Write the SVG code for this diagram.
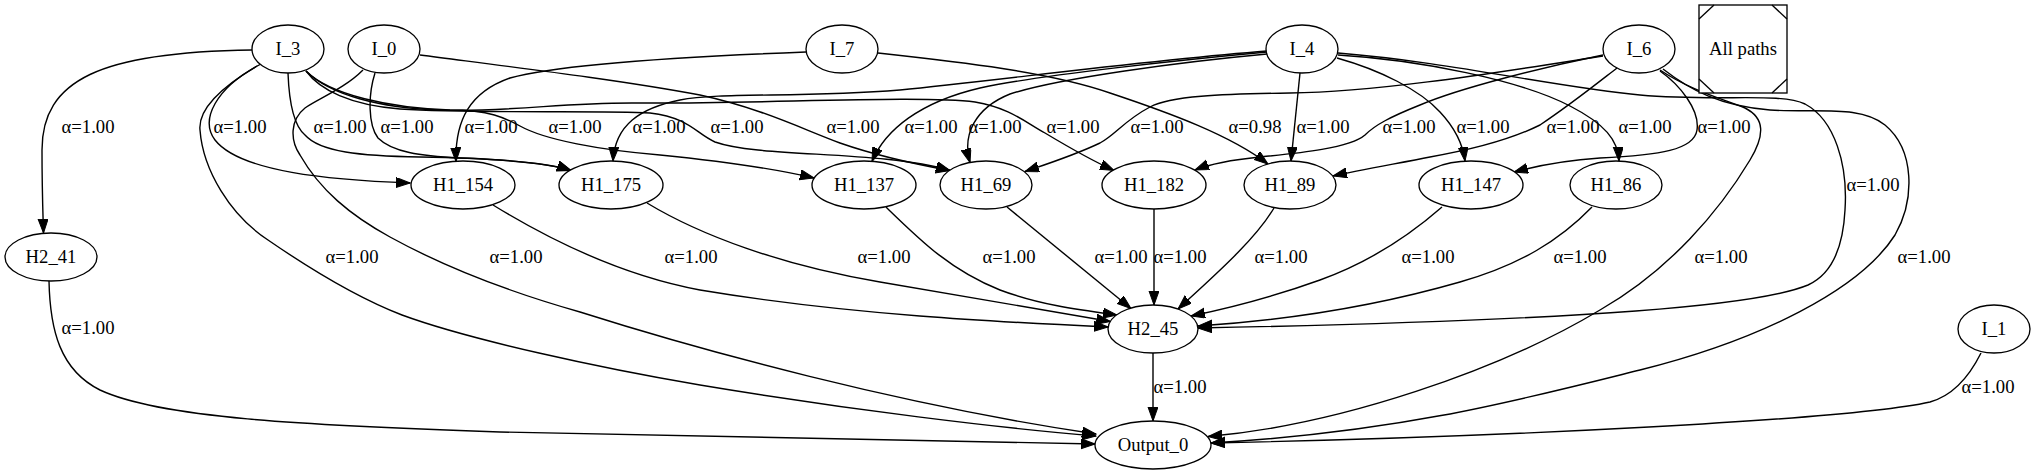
<svg xmlns="http://www.w3.org/2000/svg" width="2035" height="475" viewBox="0 0 2035 475">
<defs>
<marker id="arr" markerWidth="15" markerHeight="11" refX="14" refY="5" orient="auto" markerUnits="userSpaceOnUse">
<path d="M0,0 L14,5 L0,10 z" fill="#000" stroke="#000" stroke-width="1"/>
</marker>
<style>
.n ellipse, .n rect, .n line { fill: #fff; stroke: #000; stroke-width: 1.33; }
.n line { fill: none; }
text { font-family: "Liberation Serif", "Times New Roman", "DejaVu Serif", serif; font-size: 18.67px; fill: #000; text-anchor: middle; }
#edges path { fill: none; stroke: #000; stroke-width: 1.4; marker-end: url(#arr); }
</style>
</defs>
<rect x="0" y="0" width="2035" height="475" fill="#fff"/>
<g id="edges">
<path d="M252,50 C100,52 42,80 42,150 C42,190 43,215 43.5,233"/>
<path d="M261,64 C215,88 200,120 215,140 C240,172 330,180 410,183"/>
<path d="M257,66 C220,88 198,110 200,130 C203,170 230,215 268,240 C300,262 350,295 402,315 C470,340 600,368 700,385 C850,410 1000,428 1096,436"/>
<path d="M288,73 C289,100 293,125 305,135 C320,152 360,156 420,157 C490,158 545,162 571,170.5"/>
<path d="M306,71 C320,90 350,105 400,109 C480,114 600,110 650,113 C690,118 695,133 715,142 C760,158 880,150 950,170.5"/>
<path d="M306,71 C330,95 390,108 450,110 C490,110 505,118 520,126 C545,140 600,150 660,155 C730,162 780,170 814,178"/>
<path d="M306,71 C330,95 380,108 440,110 C520,112 560,102 640,103 C760,104 920,95 975,102 C1010,108 1025,122 1045,133 C1070,148 1095,162 1114,170.5"/>
<path d="M375,73 C368,95 368,125 378,138 C392,152 420,156 460,158 C510,160 550,163 571,170.5"/>
<path d="M363,70 C345,88 320,98 305,108 C290,120 290,140 300,155 C320,190 350,215 390,237 C450,270 520,295 580,312 C700,350 900,405 1096,434"/>
<path d="M420,55 C520,68 620,80 700,95 C760,108 800,128 840,143 C880,157 920,165 950,170.5"/>
<path d="M806,52 C700,56 560,64 510,78 C470,92 455,120 456,161.5"/>
<path d="M878,53 C960,62 1050,72 1110,93 C1170,113 1230,135 1268,164"/>
<path d="M1267,51 C1150,60 1000,80 900,90 C800,98 720,92 680,100 C640,108 615,125 613,161"/>
<path d="M1267,52 C1180,60 1040,75 980,88 C920,102 885,130 872,161.5"/>
<path d="M1267,54 C1180,62 1060,78 1010,94 C975,108 962,135 970,162.5"/>
<path d="M1300,73 L1291,161"/>
<path d="M1337,58 C1380,70 1420,90 1440,112 C1455,128 1463,145 1465,161"/>
<path d="M1338,55 C1420,60 1520,80 1570,106 C1605,124 1618,140 1619,161"/>
<path d="M1338,53 C1450,62 1560,88 1640,95 C1720,102 1780,92 1805,104 C1835,120 1848,165 1845,210 C1843,250 1830,275 1808,285 C1760,305 1600,320 1198,328"/>
<path d="M1603,56 C1500,72 1380,92 1290,93 C1220,94 1170,96 1150,107 C1125,120 1115,135 1100,143 C1075,155 1050,163 1025,171.5"/>
<path d="M1603,55 C1540,68 1460,88 1420,105 C1390,117 1375,125 1365,135 C1350,148 1300,153 1260,157 C1230,160 1210,164 1195,170"/>
<path d="M1617,68 C1595,85 1570,105 1540,125 C1510,140 1470,150 1430,157 C1400,163 1360,170 1333,176"/>
<path d="M1660,71 C1680,85 1700,110 1697,130 C1694,150 1660,155 1600,158 C1570,160 1540,165 1514,172"/>
<path d="M1660,70 C1690,90 1720,98 1745,108 C1765,118 1765,135 1750,160 C1720,210 1670,270 1600,310 C1500,370 1340,425 1208,436.5"/>
<path d="M1663,69 C1690,90 1720,106 1770,110 C1820,113 1860,105 1885,125 C1915,150 1915,200 1895,235 C1860,290 1760,340 1640,370 C1520,400 1400,432 1211,443"/>
<path d="M493,205 C550,240 620,275 700,290 C850,315 1000,322 1108,327"/>
<path d="M647,203 C700,235 780,265 880,282 C960,296 1040,310 1110.5,321.5"/>
<path d="M886,207 C920,240 950,270 1000,290 C1040,305 1080,310 1117,315"/>
<path d="M1007,207 L1131,308.5"/>
<path d="M1154,209 L1154,305"/>
<path d="M1274,208 C1255,240 1215,275 1178,309"/>
<path d="M1442,207 C1410,235 1370,262 1320,280 C1270,298 1230,308 1191,316"/>
<path d="M1592,207 C1560,240 1520,265 1460,282 C1380,305 1290,320 1198,326"/>
<path d="M49,281 C50,330 60,370 100,390 C160,418 300,425 500,432 C750,438 950,441 1095,444"/>
<path d="M1153,353 L1153,421"/>
<path d="M1981,353 C1970,375 1955,395 1930,402 C1850,420 1500,437 1211,443"/>
</g>
<g id="edge-labels">
<text x="88" y="133">α=1.00</text>
<text x="240" y="133">α=1.00</text>
<text x="340" y="133">α=1.00</text>
<text x="407" y="133">α=1.00</text>
<text x="491" y="133">α=1.00</text>
<text x="575" y="133">α=1.00</text>
<text x="659" y="133">α=1.00</text>
<text x="737" y="133">α=1.00</text>
<text x="853" y="133">α=1.00</text>
<text x="931" y="133">α=1.00</text>
<text x="995" y="133">α=1.00</text>
<text x="1073" y="133">α=1.00</text>
<text x="1157" y="133">α=1.00</text>
<text x="1255" y="133">α=0.98</text>
<text x="1323" y="133">α=1.00</text>
<text x="1409" y="133">α=1.00</text>
<text x="1483" y="133">α=1.00</text>
<text x="1573" y="133">α=1.00</text>
<text x="1645" y="133">α=1.00</text>
<text x="1724" y="133">α=1.00</text>
<text x="1873" y="191">α=1.00</text>
<text x="352" y="263">α=1.00</text>
<text x="516" y="263">α=1.00</text>
<text x="691" y="263">α=1.00</text>
<text x="884" y="263">α=1.00</text>
<text x="1009" y="263">α=1.00</text>
<text x="1121" y="263">α=1.00</text>
<text x="1180" y="263">α=1.00</text>
<text x="1281" y="263">α=1.00</text>
<text x="1428" y="263">α=1.00</text>
<text x="1580" y="263">α=1.00</text>
<text x="1721" y="263">α=1.00</text>
<text x="1924" y="263">α=1.00</text>
<text x="88" y="334">α=1.00</text>
<text x="1180" y="393">α=1.00</text>
<text x="1988" y="393">α=1.00</text>
</g>
<g id="I_3" class="n"><ellipse cx="288" cy="49" rx="36" ry="24"/><text x="288" y="54.5">I_3</text></g>
<g id="I_0" class="n"><ellipse cx="384" cy="49" rx="36" ry="24"/><text x="384" y="54.5">I_0</text></g>
<g id="I_7" class="n"><ellipse cx="842" cy="49" rx="36" ry="24"/><text x="842" y="54.5">I_7</text></g>
<g id="I_4" class="n"><ellipse cx="1302" cy="49" rx="36" ry="24"/><text x="1302" y="54.5">I_4</text></g>
<g id="I_6" class="n"><ellipse cx="1639" cy="49" rx="36" ry="24"/><text x="1639" y="54.5">I_6</text></g>
<g id="all_paths" class="n">
<rect x="1699" y="5" width="88" height="88"/>
<line x1="1699" y1="19" x2="1714" y2="5"/>
<line x1="1772" y1="5" x2="1787" y2="19"/>
<line x1="1699" y1="79" x2="1714" y2="93"/>
<line x1="1772" y1="93" x2="1787" y2="79"/>
<text x="1743" y="54.5">All paths</text>
</g>
<g id="H1_154" class="n"><ellipse cx="463" cy="185" rx="52" ry="24"/><text x="463" y="190.5">H1_154</text></g>
<g id="H1_175" class="n"><ellipse cx="611" cy="185" rx="52" ry="24"/><text x="611" y="190.5">H1_175</text></g>
<g id="H1_137" class="n"><ellipse cx="864" cy="185" rx="52" ry="24"/><text x="864" y="190.5">H1_137</text></g>
<g id="H1_69" class="n"><ellipse cx="986" cy="185" rx="46" ry="24"/><text x="986" y="190.5">H1_69</text></g>
<g id="H1_182" class="n"><ellipse cx="1154" cy="185" rx="52" ry="24"/><text x="1154" y="190.5">H1_182</text></g>
<g id="H1_89" class="n"><ellipse cx="1290" cy="185" rx="46" ry="24"/><text x="1290" y="190.5">H1_89</text></g>
<g id="H1_147" class="n"><ellipse cx="1471" cy="185" rx="52" ry="24"/><text x="1471" y="190.5">H1_147</text></g>
<g id="H1_86" class="n"><ellipse cx="1616" cy="185" rx="46" ry="24"/><text x="1616" y="190.5">H1_86</text></g>
<g id="H2_41" class="n"><ellipse cx="51" cy="257" rx="46" ry="24"/><text x="51" y="262.5">H2_41</text></g>
<g id="H2_45" class="n"><ellipse cx="1153" cy="329" rx="45" ry="24"/><text x="1153" y="334.5">H2_45</text></g>
<g id="Output_0" class="n"><ellipse cx="1153" cy="445" rx="58" ry="24"/><text x="1153" y="450.5">Output_0</text></g>
<g id="I_1" class="n"><ellipse cx="1994" cy="329" rx="36" ry="24"/><text x="1994" y="334.5">I_1</text></g>
</svg>
